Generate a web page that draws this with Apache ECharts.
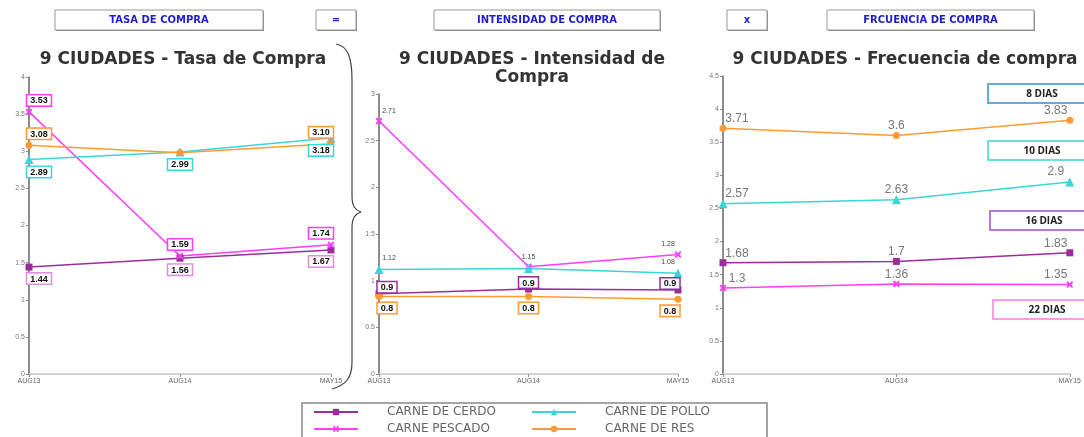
<!DOCTYPE html>
<html>
<head>
<meta charset="utf-8">
<script src="https://cdn.jsdelivr.net/npm/echarts@6/dist/echarts.min.js"></script>
<style>
  html, body { margin: 0; padding: 0; background: #fff; }
  #chart { width: 1084px; height: 437px; }
</style>
</head>
<body>
<div id="chart"></div>
<script>
// categories
const periods = ['AUG13', 'AUG14', 'MAY15'];
const seriesNames = ['CARNE DE CERDO', 'CARNE PESCADO', 'CARNE DE POLLO', 'CARNE DE RES'];

// Tasa de compra
const tasaCerdo = [1.44, 1.56, 1.67];
const tasaPescado = [3.53, 1.59, 1.74];
const tasaPollo = [2.89, 2.99, 3.18];
const tasaRes = [3.08, 2.98, 3.10];

// Intensidad de compra
const intCerdo = [0.86, 0.91, 0.9];
const intPescado = [2.71, 1.15, 1.28];
const intPollo = [1.12, 1.13, 1.08];
const intRes = [0.83, 0.83, 0.8];

// Frecuencia de compra
const freCerdo = [1.68, 1.7, 1.83];
const frePescado = [1.3, 1.36, 1.35];
const frePollo = [2.57, 2.63, 2.9];
const freRes = [3.71, 3.6, 3.83];

// day boxes on the right chart
const diasLabels = ['8 DIAS', '10 DIAS', '16 DIAS', '22 DIAS'];

const colors = {
  cerdo: '#9b2d9b',
  pescado: '#ff3cff',
  pollo: '#3dd4d8',
  res: '#ff9a33'
};
const xSymbol = 'path://M0,2 L2,0 L5,3 L8,0 L10,2 L7,5 L10,8 L8,10 L5,7 L2,10 L0,8 L3,5 Z';
const symbols = { cerdo: 'rect', pescado: xSymbol, pollo: 'triangle', res: 'circle' };

const chart = echarts.init(document.getElementById('chart'));

function boxLabel(color, decimals) {
  return {
    show: true,
    formatter: p => p.value.toFixed(decimals),
    fontSize: 9,
    fontWeight: 'bold',
    fontFamily: 'Liberation Sans',
    color: '#111',
    backgroundColor: '#fff',
    borderColor: color,
    borderWidth: 1.5,
    padding: [1, 3, 0, 3],
    distance: 3
  };
}

function plainLabel(size, color, dist) {
  return {
    show: true,
    fontSize: size,
    fontFamily: 'Liberation Sans',
    color: color,
    distance: dist
  };
}

// data items with per-point label position (null = hidden); edge labels pushed inwards
function items(values, positions, shift) {
  const n = values.length;
  return values.map((v, i) => {
    if (positions[i] === null) return { value: v, label: { show: false } };
    const dx = i === 0 ? shift : (i === n - 1 ? -shift : 0);
    return { value: v, label: { position: positions[i], offset: [dx, 0] } };
  });
}

function line(name, key, idx, data, label) {
  return {
    name: name,
    type: 'line',
    xAxisIndex: idx,
    yAxisIndex: idx,
    data: data,
    symbol: symbols[key],
    symbolSize: key === 'pollo' ? 9 : 7,
    itemStyle: { color: colors[key] },
    lineStyle: { color: colors[key], width: 1.5 },
    label: label,
    animation: false
  };
}

const B = 'bottom', T = 'top';
const series = [
  // Tasa
  line(seriesNames[0], 'cerdo', 0, items(tasaCerdo, [B, B, B], 10), boxLabel('#e08ce0', 2)),
  line(seriesNames[1], 'pescado', 0, items(tasaPescado, [T, T, T], 10), boxLabel(colors.pescado, 2)),
  line(seriesNames[2], 'pollo', 0, items(tasaPollo, [B, B, B], 10), boxLabel(colors.pollo, 2)),
  line(seriesNames[3], 'res', 0, items(tasaRes, [T, null, T], 10), boxLabel(colors.res, 2)),
  // Intensidad
  line(seriesNames[0], 'cerdo', 1, items(intCerdo, [T, T, T], 8), Object.assign(boxLabel(colors.cerdo, 1), { distance: -2 })),
  line(seriesNames[1], 'pescado', 1, items(intPescado, [T, T, T], 10), plainLabel(7, '#444', 3)),
  line(seriesNames[2], 'pollo', 1, items(intPollo, [T, null, T], 10), plainLabel(7, '#444', 3)),
  line(seriesNames[3], 'res', 1, items(intRes, [B, B, B], 8), boxLabel(colors.res, 1)),
  // Frecuencia
  line(seriesNames[0], 'cerdo', 2, items(freCerdo, [T, T, T], 14), plainLabel(12, '#777', 0)),
  line(seriesNames[1], 'pescado', 2, items(frePescado, [T, T, T], 14), plainLabel(12, '#777', 0)),
  line(seriesNames[2], 'pollo', 2, items(frePollo, [T, T, T], 14), plainLabel(12, '#777', 0)),
  line(seriesNames[3], 'res', 2, items(freRes, [T, T, T], 14), plainLabel(12, '#777', 0))
];

function xAxis(idx) {
  return {
    type: 'category',
    gridIndex: idx,
    data: periods,
    boundaryGap: false,
    axisLine: { lineStyle: { color: '#c4c4c4', width: 1.5 } },
    axisTick: { show: true, alignWithLabel: true, length: 3, lineStyle: { color: '#999' } },
    axisLabel: { fontSize: 7, color: '#666', margin: 4, fontFamily: 'Liberation Sans' },
    splitLine: { show: false }
  };
}

function yAxis(idx, max) {
  return {
    type: 'value',
    gridIndex: idx,
    min: 0,
    max: max,
    interval: 0.5,
    axisLine: { show: true, lineStyle: { color: '#666', width: 1.5 } },
    axisTick: { show: true, length: 3, lineStyle: { color: '#888' } },
    axisLabel: { fontSize: 7, color: '#777', margin: 4, fontFamily: 'Liberation Sans' },
    splitLine: { show: false }
  };
}

// header boxes
function headerBox(x, w, text) {
  return {
    type: 'group',
    children: [
      { type: 'rect', shape: { x: x + 1, y: 11, width: w, height: 20 }, style: { fill: '#888' } },
      { type: 'rect', shape: { x: x, y: 10, width: w, height: 20 }, style: { fill: '#fff', stroke: '#999', lineWidth: 1 } },
      { type: 'text', x: x + w / 2, y: 20, style: { text: text, fill: '#1f1fc8', font: 'bold 10px DejaVu Sans', align: 'center', verticalAlign: 'middle' } }
    ]
  };
}

function diasBox(x, y, w, text, stroke) {
  return {
    type: 'group',
    children: [
      { type: 'rect', shape: { x: x, y: y, width: w, height: 19 }, style: { fill: '#fff', stroke: stroke, lineWidth: 1.5 } },
      { type: 'text', x: x + w / 2 + 4, y: y + 10, style: { text: text, fill: '#222', font: 'bold 10px Open Sans', align: 'center', verticalAlign: 'middle' } }
    ]
  };
}

const braceStyle = { fill: 'none', stroke: '#444', lineWidth: 1.2 };
function curve(x1, y1, c1x, c1y, c2x, c2y, x2, y2) {
  return { type: 'bezierCurve', shape: { x1: x1, y1: y1, cpx1: c1x, cpy1: c1y, cpx2: c2x, cpy2: c2y, x2: x2, y2: y2 }, style: braceStyle };
}
function seg(x1, y1, x2, y2) {
  return { type: 'line', shape: { x1: x1, y1: y1, x2: x2, y2: y2 }, style: braceStyle };
}

const legendText = { fontSize: 12, color: '#666', fontFamily: 'DejaVu Sans', padding: [0, 0, 0, 24] };
const titleStyle = { fontSize: 17, fontWeight: 'bold', color: '#333', fontFamily: 'DejaVu Sans', lineHeight: 18 };

function legend(names, left) {
  return {
    data: names, orient: 'vertical', left: left, top: 406, padding: 0,
    itemWidth: 44, itemHeight: 8, itemGap: 5, textStyle: legendText
  };
}

chart.setOption({
  backgroundColor: '#fff',
  animation: false,
  title: [
    { text: '9 CIUDADES - Tasa de Compra', left: 178, top: 46, textAlign: 'center', textStyle: titleStyle },
    { text: '9 CIUDADES - Intensidad de\nCompra', left: 527, top: 46, textAlign: 'center', textStyle: titleStyle },
    { text: '9 CIUDADES - Frecuencia de compra', left: 900, top: 46, textAlign: 'center', textStyle: titleStyle }
  ],
  legend: [
    legend([seriesNames[0], seriesNames[1]], 313),
    legend([seriesNames[2], seriesNames[3]], 531)
  ],
  grid: [
    { left: 29, right: 753, top: 77, bottom: 63 },
    { left: 379, right: 406, top: 94, bottom: 63 },
    { left: 723, right: 3, top: 76, bottom: 63 }
  ],
  xAxis: [xAxis(0), xAxis(1), xAxis(2)],
  yAxis: [yAxis(0, 4), yAxis(1, 3), yAxis(2, 4.5)],
  series: series,
  graphic: [
    headerBox(55, 208, 'TASA DE COMPRA'),
    headerBox(316, 40, '='),
    headerBox(434, 226, 'INTENSIDAD DE COMPRA'),
    headerBox(727, 40, 'x'),
    headerBox(827, 207, 'FRCUENCIA DE COMPRA'),
    diasBox(988, 84, 100, diasLabels[0], '#3a8fd0'),
    diasBox(988, 141, 100, diasLabels[1], '#3ad8c8'),
    diasBox(990, 211, 100, diasLabels[2], '#9b4fd0'),
    diasBox(993, 300, 100, diasLabels[3], '#ff7ae0'),
    // curly brace between the first two charts
    curve(336, 44, 348, 46, 352, 58, 352, 80),
    seg(352, 80, 352, 196),
    curve(352, 196, 352, 206, 355, 210, 361, 212),
    curve(361, 212, 355, 214, 352, 218, 352, 228),
    seg(352, 228, 352, 362),
    curve(352, 362, 352, 378, 346, 385, 332, 389),
    // legend frame
    { type: 'rect', shape: { x: 302, y: 403, width: 465, height: 40 }, style: { fill: 'none', stroke: '#888', lineWidth: 1.5 }, z: -1 }
  ]
});
</script>
</body>
</html>
